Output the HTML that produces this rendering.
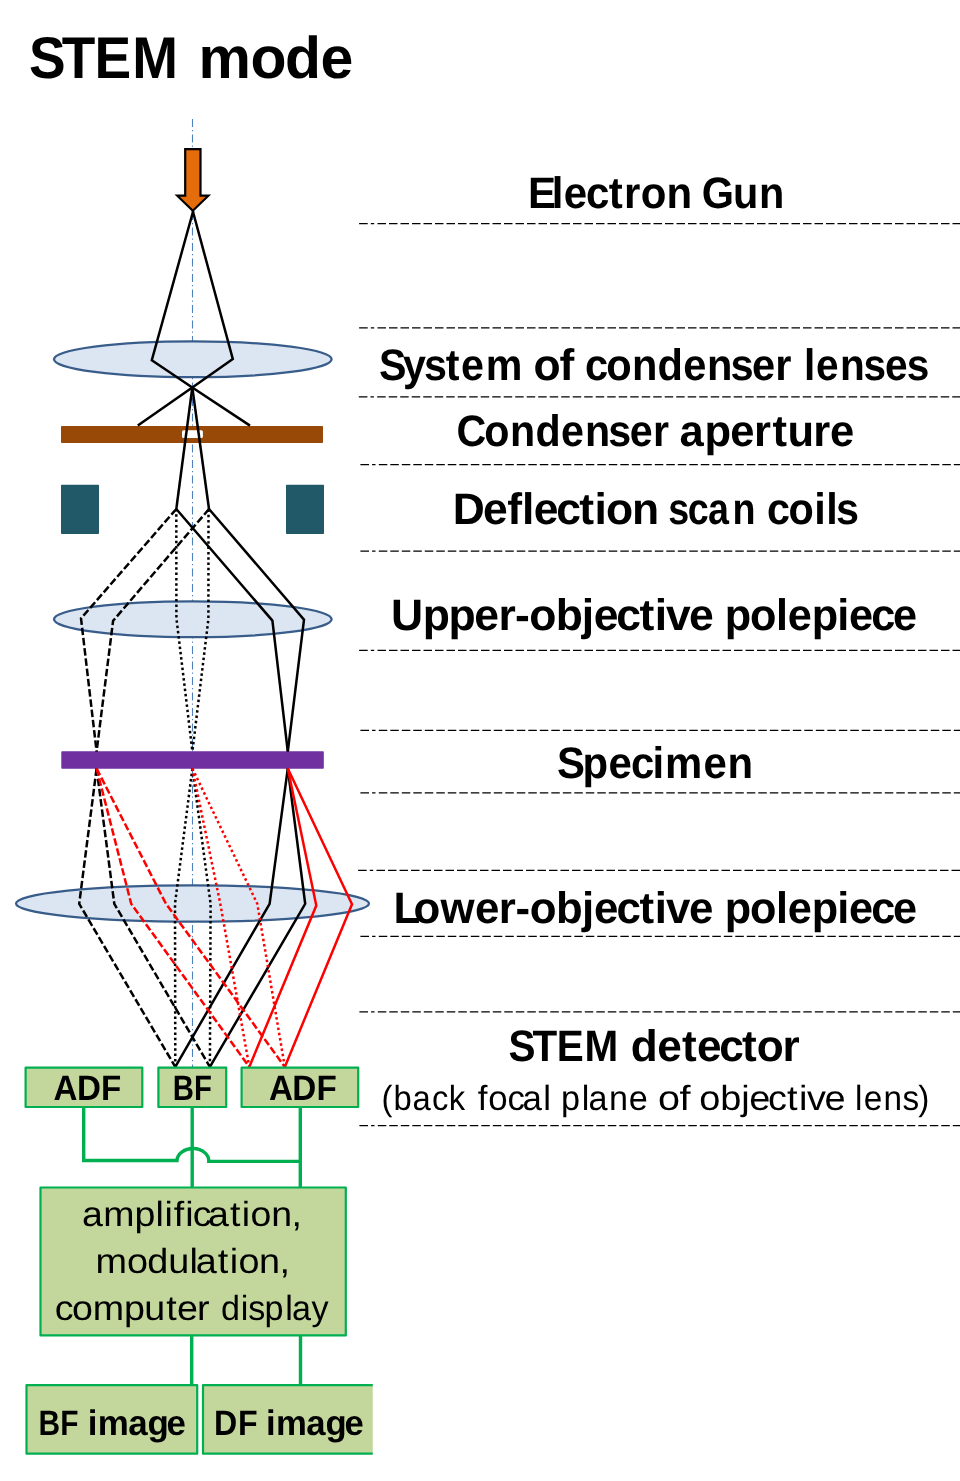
<!DOCTYPE html>
<html lang="en"><head><meta charset="utf-8"><title>STEM mode</title>
<style>
html,body{margin:0;padding:0;background:#fff;}
body{width:960px;height:1481px;overflow:hidden;}
svg{display:block;will-change:transform;}
text{font-family:"Liberation Sans",sans-serif;font-weight:bold;fill:#000;text-rendering:geometricPrecision;}
text.r{font-weight:normal;}
.ray{fill:none;stroke:#000;stroke-width:2.5;stroke-linejoin:miter;}
.red{stroke:#ff0000;}
.dash{stroke-dasharray:7.5 2.8;}
.dot{stroke-dasharray:2.5 2.8;}
.lens{fill:#dce6f2;stroke:#385d8a;stroke-width:2.3;}
.box{fill:#c3d69b;stroke:#00b050;stroke-width:2.2;stroke-linejoin:round;}
.wire{fill:none;stroke:#00b050;stroke-width:3.4;}
.sep{stroke:#000;stroke-width:1.3;fill:none;}
</style></head><body>
<svg width="960" height="1481" viewBox="0 0 960 1481">
<rect width="960" height="1481" fill="#fff"/>
<line x1="192.5" y1="119" x2="192.5" y2="1067" stroke="#4f81bd" stroke-width="1.1" stroke-dasharray="8 3 1.3 3.2"/>
<ellipse class="lens" cx="192.8" cy="359.3" rx="138.8" ry="17.9"/>
<ellipse class="lens" cx="192.8" cy="619.3" rx="138.8" ry="17.9"/>
<ellipse class="lens" cx="192.5" cy="903.5" rx="176.5" ry="18.2"/>
<rect x="61" y="426" width="262" height="17" rx="0.8" fill="#984807"/>
<rect x="182" y="430.3" width="20.9" height="7.8" rx="1.5" fill="#fff"/>
<rect x="61" y="484.7" width="38" height="49.3" rx="0.8" fill="#215968"/>
<rect x="286" y="484.7" width="38" height="49.3" rx="0.8" fill="#215968"/>
<rect x="61.3" y="751.3" width="262.5" height="17.5" rx="0.8" fill="#7030a0"/>
<path d="M185.2 149.1H200.5V195.7H208.4L192.8 210.8L177.2 195.7H185.2Z" fill="#e46c0a" stroke="#000" stroke-width="2.2" stroke-linejoin="miter"/>
<path class="ray" d="M193.2 211L151.8 360.2L192.3 387.5L250 425.6"/>
<path class="ray" d="M192.8 211L232.8 359L192.3 387.5L137.8 425.6"/>
<path class="ray" d="M192.3 387.5L176.3 509"/>
<path class="ray" d="M192.3 387.5L209 509"/>
<path class="ray dash" d="M176.3 509L81 618.4L96.6 751.5"/>
<path class="ray dash" d="M209 509L113.1 620.8L96.6 751.5"/>
<path class="ray dot" d="M176.3 509L176.4 618L192.4 751.5"/>
<path class="ray dot" d="M208.5 509.5L208.4 619L192.4 751.5"/>
<path class="ray" d="M176.3 509L272.4 620.6L287.8 751.5"/>
<path class="ray" d="M209 509L304 619.6L287.8 751.5"/>
<path class="ray dash" d="M96.6 768.5L79.2 903.8L175.3 1066.9"/>
<path class="ray dash" d="M96.6 768.5L114.3 903.8L209.9 1066.9"/>
<path class="ray dot" d="M192.4 768.5L175.0 903.8L175.3 1066.9"/>
<path class="ray dot" d="M192.4 768.5L210.6 903.8L209.9 1066.9"/>
<path class="ray " d="M287.8 768.5L269.6 903.8L175.3 1066.9"/>
<path class="ray " d="M287.8 768.5L305.2 903.8L209.9 1066.9"/>
<path class="ray red dash" d="M96.6 768.5L131.2 903.8L249.3 1066.9"/>
<path class="ray red dash" d="M96.6 768.5L166 903.8L284.8 1066.9"/>
<path class="ray red dot" d="M192.4 768.5L220.3 903.8L249.3 1066.9"/>
<path class="ray red dot" d="M192.4 768.5L257.3 903.8L284.8 1066.9"/>
<path class="ray red" d="M287.8 768.5L316.3 905.6L249.3 1066.9"/>
<path class="ray red" d="M287.8 768.5L352 904.2L284.8 1066.9"/>
<path class="wire" d="M83.7 1107V1160.5H177A15.9 12.4 0 0 1 208.8 1161.4H300.3"/>
<path class="wire" d="M192.2 1107V1188"/>
<path class="wire" d="M300.3 1107V1188"/>
<path class="wire" d="M191.7 1335V1385"/>
<path class="wire" d="M300.5 1335V1385"/>
<rect class="box" x="25.60" y="1067.70" width="116.70" height="39.30"/>
<rect class="box" x="158.40" y="1067.70" width="67.80" height="39.30"/>
<rect class="box" x="241.60" y="1067.70" width="116.60" height="39.30"/>
<rect class="box" x="40.50" y="1187.50" width="305.30" height="147.90"/>
<rect class="box" x="26.50" y="1385.10" width="170.70" height="68.60"/>
<path class="box" d="M372.75 1385.1H203.0V1453.7H372.75"/>
<text y="78" font-size="58.9"><tspan x="29.1 61.7 94.5 132.2" textLength="152.66" lengthAdjust="spacingAndGlyphs">STEM</tspan> <tspan x="198.6 250.6 285.0 320.6" textLength="157.21" lengthAdjust="spacingAndGlyphs">mode</tspan></text>
<text y="208" font-size="44.1"><tspan x="527.9 551.7 563.7 586.0 608.8 623.9 640.8 666.6" textLength="167.99" lengthAdjust="spacingAndGlyphs">Electron</tspan> <tspan x="701.7 733.1 759.0" textLength="82.90" lengthAdjust="spacingAndGlyphs">Gun</tspan></text>
<text y="380" font-size="44.1"><tspan x="378.9 403.1 423.9 445.7 460.9 485.8" textLength="146.70" lengthAdjust="spacingAndGlyphs">System</tspan> <tspan x="533.4 559.6" textLength="41.89" lengthAdjust="spacingAndGlyphs">of</tspan> <tspan x="584.9 606.2 631.9 657.5 683.2 707.1 730.4 751.9 775.2" textLength="210.49" lengthAdjust="spacingAndGlyphs">condenser</tspan> <tspan x="804.0 816.1 840.1 863.5 885.0 906.7" textLength="126.39" lengthAdjust="spacingAndGlyphs">lenses</tspan></text>
<text y="446" font-size="44.1"><tspan x="456.5 484.2 509.9 535.5 561.1 584.9 608.2 629.7 652.9" textLength="215.28" lengthAdjust="spacingAndGlyphs">Condenser</tspan> <tspan x="679.6 704.6 730.2 754.0 772.4 787.5 813.3 830.1" textLength="174.28" lengthAdjust="spacingAndGlyphs">aperture</tspan></text>
<text y="524" font-size="44.1"><tspan x="452.7 483.1 507.2 522.1 533.8 556.2 579.3 594.6 606.1 632.1" textLength="214.85" lengthAdjust="spacingAndGlyphs">Deflection</tspan> <tspan x="668.2 687.8 708.0 732.5" textLength="85.86" lengthAdjust="spacingAndGlyphs">scan</tspan> <tspan x="766.9 788.5 814.3 826.3 836.0" textLength="94.26" lengthAdjust="spacingAndGlyphs">coils</tspan></text>
<text y="630" font-size="44.1"><tspan x="390.9 422.7 448.6 474.2 498.4 515.1 529.3 555.8 581.7 593.8 616.3 639.4 654.7 666.0 689.0" textLength="336.21" lengthAdjust="spacingAndGlyphs">Upper-objective</tspan> <tspan x="724.8 750.0 776.0 787.7 811.8 837.2 849.0 871.3 893.0" textLength="199.49" lengthAdjust="spacingAndGlyphs">polepiece</tspan></text>
<text y="778" font-size="44.1"><tspan x="557.0 582.6 608.5 630.9 652.5 665.1 703.5 727.5" textLength="198.09" lengthAdjust="spacingAndGlyphs">Specimen</tspan></text>
<text y="923" font-size="44.1"><tspan x="393.6 413.4 440.5 474.9 498.8 515.5 529.8 556.1 581.9 594.0 616.4 639.4 654.7 666.0 688.9" textLength="333.84" lengthAdjust="spacingAndGlyphs">Lower-objective</tspan> <tspan x="724.8 750.0 776.0 787.7 811.8 837.2 849.0 871.3 893.0" textLength="199.49" lengthAdjust="spacingAndGlyphs">polepiece</tspan></text>
<text y="1061" font-size="44.1"><tspan x="508.4 532.5 556.7 584.4" textLength="112.41" lengthAdjust="spacingAndGlyphs">STEM</tspan> <tspan x="630.8 657.2 682.1 696.9 719.2 742.1 756.7 782.5" textLength="174.25" lengthAdjust="spacingAndGlyphs">detector</tspan></text>
<text y="1110" font-size="35.0" class="r"><tspan x="381.6 393.4 412.5 432.1 448.8" textLength="80.13" lengthAdjust="spacingAndGlyphs">(back</tspan> <tspan x="477.7 488.3 507.5 522.6 543.2" textLength="73.56" lengthAdjust="spacingAndGlyphs">focal</tspan> <tspan x="561.1 581.7 588.5 608.9 628.7" textLength="83.61" lengthAdjust="spacingAndGlyphs">plane</tspan> <tspan x="657.9 679.4" textLength="33.06" lengthAdjust="spacingAndGlyphs">of</tspan> <tspan x="699.2 720.3 741.2 749.2 768.1 787.1 799.0 807.1 824.4" textLength="149.66" lengthAdjust="spacingAndGlyphs">objective</tspan> <tspan x="855.1 863.7 883.6 902.5 918.3" textLength="72.24" lengthAdjust="spacingAndGlyphs">lens)</tspan></text>
<text y="1100" font-size="35.4"><tspan x="53.5 76.9 100.9" textLength="68.14" lengthAdjust="spacingAndGlyphs">ADF</tspan></text>
<text y="1100" font-size="35.4"><tspan x="172.7 193.9" textLength="39.09" lengthAdjust="spacingAndGlyphs">BF</tspan></text>
<text y="1100" font-size="35.4"><tspan x="268.9 292.3 316.4" textLength="68.30" lengthAdjust="spacingAndGlyphs">ADF</tspan></text>
<text y="1226" font-size="35.0" class="r"><tspan x="82.0 103.2 134.6 155.5 164.4 173.7 185.2 192.8 208.0 229.9 241.8 250.5 271.2 291.6" textLength="218.92" lengthAdjust="spacingAndGlyphs">amplification,</tspan></text>
<text y="1273" font-size="35.0" class="r"><tspan x="95.6 126.9 147.2 168.2 189.4 195.8 217.8 229.7 238.4 259.1 279.5" textLength="195.65" lengthAdjust="spacingAndGlyphs">modulation,</tspan></text>
<text y="1320" font-size="35.0" class="r"><tspan x="54.8 72.1 92.8 124.1 144.2 166.2 177.0 196.9" textLength="156.95" lengthAdjust="spacingAndGlyphs">computer</tspan> <tspan x="220.9 240.8 248.3 264.6 285.3 292.1 311.6" textLength="106.33" lengthAdjust="spacingAndGlyphs">display</tspan></text>
<text y="1435" font-size="35.4"><tspan x="38.6 60.2" textLength="39.85" lengthAdjust="spacingAndGlyphs">BF</tspan> <tspan x="87.7 97.8 128.2 147.6 166.5" textLength="101.03" lengthAdjust="spacingAndGlyphs">image</tspan></text>
<text y="1435" font-size="35.4"><tspan x="214.0 238.1" textLength="42.85" lengthAdjust="spacingAndGlyphs">DF</tspan> <tspan x="266.1 276.1 306.3 325.6 344.4" textLength="100.45" lengthAdjust="spacingAndGlyphs">image</tspan></text>
<path class="sep" d="M359.1 223.7h8.6M370.8 223.7h3.4"/>
<path class="sep" stroke-dasharray="8.5 3" d="M377.5 223.7H960"/>
<path class="sep" d="M359.1 327.9h8.6M370.8 327.9h3.4"/>
<path class="sep" stroke-dasharray="8.5 3" d="M377.5 327.9H960"/>
<path class="sep" d="M358.8 396.8h8.6M370.5 396.8h3.4"/>
<path class="sep" stroke-dasharray="8.5 3" d="M377.2 396.8H960"/>
<path class="sep" d="M360.4 464.7h8.6M372.09999999999997 464.7h3.4"/>
<path class="sep" stroke-dasharray="8.5 3" d="M378.79999999999995 464.7H960"/>
<path class="sep" d="M360.4 551.2h8.6M372.09999999999997 551.2h3.4"/>
<path class="sep" stroke-dasharray="8.5 3" d="M378.79999999999995 551.2H960"/>
<path class="sep" d="M359.1 650.3h8.6M370.8 650.3h3.4"/>
<path class="sep" stroke-dasharray="8.5 3" d="M377.5 650.3H960"/>
<path class="sep" d="M360.4 730.3h8.6M372.09999999999997 730.3h3.4"/>
<path class="sep" stroke-dasharray="8.5 3" d="M378.79999999999995 730.3H960"/>
<path class="sep" d="M360.4 792.8h8.6M372.09999999999997 792.8h3.4"/>
<path class="sep" stroke-dasharray="8.5 3" d="M378.79999999999995 792.8H960"/>
<path class="sep" d="M358.1 870.3h8.6M369.8 870.3h3.4"/>
<path class="sep" stroke-dasharray="8.5 3" d="M376.5 870.3H960"/>
<path class="sep" d="M360.4 936.4h8.6M372.09999999999997 936.4h3.4"/>
<path class="sep" stroke-dasharray="8.5 3" d="M378.79999999999995 936.4H960"/>
<path class="sep" d="M359.4 1011.8h8.6M371.09999999999997 1011.8h3.4"/>
<path class="sep" stroke-dasharray="8.5 3" d="M377.79999999999995 1011.8H960"/>
<path class="sep" d="M359.4 1125.7h8.6M371.09999999999997 1125.7h3.4"/>
<path class="sep" stroke-dasharray="8.5 3" d="M377.79999999999995 1125.7H960"/>
</svg>
</body></html>
